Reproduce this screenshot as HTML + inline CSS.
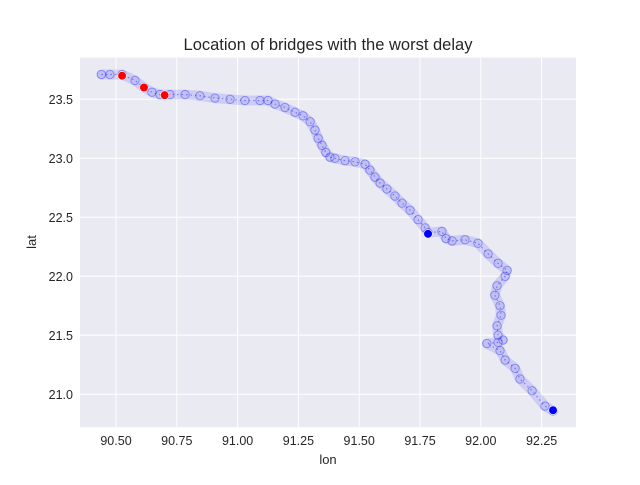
<!DOCTYPE html>
<html><head><meta charset="utf-8"><style>
body{margin:0;background:#fff;}
svg text{font-family:"Liberation Sans",sans-serif;fill:#262626;}
</style></head><body>
<svg id="chart" width="640" height="480" xmlns="http://www.w3.org/2000/svg">
<rect x="0" y="0" width="640" height="480" fill="#fff"/>
<rect x="80" y="57.6" width="496" height="369.6" fill="#eaeaf2"/>
<g id="grid"></g>
<g id="marks"></g>
<g id="ticks"></g>
<text x="328" y="50" text-anchor="middle" font-size="16.5">Location of bridges with the worst delay</text>
<text x="328" y="464" text-anchor="middle" font-size="13">lon</text>
<text transform="translate(36,242) rotate(-90)" text-anchor="middle" font-size="13">lat</text>
</svg>
<script>
const lons=[90.44,90.475,90.525,90.578,90.615,90.648,90.681,90.722,90.784,90.845,90.907,90.969,91.03,91.092,91.125,91.154,91.195,91.236,91.269,91.298,91.318,91.331,91.347,91.363,91.38,91.4,91.442,91.483,91.524,91.544,91.565,91.586,91.614,91.647,91.676,91.709,91.742,91.771,91.783,91.84,91.857,91.882,91.935,91.988,92.03,92.071,92.108,92.1,92.067,92.058,92.079,92.083,92.067,92.071,92.091,92.071,92.025,92.079,92.1,92.141,92.161,92.211,92.264,92.297];
const lats=[23.71,23.71,23.71,23.66,23.6,23.56,23.54,23.54,23.54,23.53,23.51,23.5,23.49,23.49,23.49,23.46,23.43,23.39,23.36,23.31,23.24,23.17,23.11,23.05,23.01,23.0,22.98,22.97,22.95,22.9,22.84,22.79,22.74,22.68,22.62,22.56,22.48,22.41,22.37,22.38,22.32,22.3,22.31,22.28,22.19,22.11,22.05,22.0,21.92,21.84,21.75,21.67,21.58,21.5,21.46,21.44,21.43,21.37,21.29,21.22,21.13,21.03,20.9,20.86];
const redLons=[90.525,90.615,90.70];
const redLats=[23.70,23.60,23.535];
const blueLons=[91.783,92.297];
const blueLats=[22.36,20.865];
const xTicks=[90.5,90.75,91.0,91.25,91.5,91.75,92.0,92.25];
const xTickLabels=["90.50","90.75","91.00","91.25","91.50","91.75","92.00","92.25"];
const yTicks=[21.0,21.5,22.0,22.5,23.0,23.5];
const yTickLabels=["21.0","21.5","22.0","22.5","23.0","23.5"];
const X=v=>116+(v-90.5)*243.2;
const Y=v=>99.3-(v-23.5)*118;
const NS="http://www.w3.org/2000/svg";
function mk(t,a,p){const e=document.createElementNS(NS,t);for(const k in a)e.setAttribute(k,a[k]);p.appendChild(e);return e;}
const grid=document.getElementById('grid'),marks=document.getElementById('marks'),ticks=document.getElementById('ticks');
xTicks.forEach((v,i)=>{
 const l=mk('line',{x1:X(v),x2:X(v),y1:57.6,y2:427.2,stroke:'#fff','stroke-width':1},grid);
 
 
 const t=mk('text',{x:X(v),y:445,'text-anchor':'middle','font-size':12.5},ticks);
 t.textContent=xTickLabels[i];
 
 
});
yTicks.forEach((v,i)=>{
 const l=mk('line',{x1:80,x2:576,y1:Y(v),y2:Y(v),stroke:'#fff','stroke-width':1},grid);
 
 
 const t=mk('text',{x:73,y:Y(v)+4.5,'text-anchor':'end','font-size':12.5},ticks);
 t.textContent=yTickLabels[i];
 
 
});
const pts=lons.map((v,i)=>X(v)+','+Y(lats[i])).join(' ');
const band=mk('polyline',{points:pts,fill:'none',stroke:'rgba(90,90,255,0.2)','stroke-width':10,'stroke-linejoin':'round','stroke-linecap':'round'},marks);


const core=mk('polyline',{points:pts,fill:'none',stroke:'rgba(0,0,255,0.4)','stroke-width':1.2,'stroke-dasharray':'1.5 3'},marks);


lons.forEach((v,i)=>{
 const c=mk('circle',{cx:X(v),cy:Y(lats[i]),r:4.2,fill:'rgba(0,0,255,0.06)',stroke:'rgba(0,0,230,0.35)','stroke-width':0.9},marks);
 
 
});
blueLons.forEach((v,i)=>{
 const c=mk('circle',{cx:X(v),cy:Y(blueLats[i]),r:4.3,fill:'#0000ff',stroke:'#fff','stroke-width':0.6},marks);
 
 
});
redLons.forEach((v,i)=>{
 const c=mk('circle',{cx:X(v),cy:Y(redLats[i]),r:4.3,fill:'#ff0000',stroke:'#fff','stroke-width':0.6},marks);
 
 
});
</script>
</body></html>
